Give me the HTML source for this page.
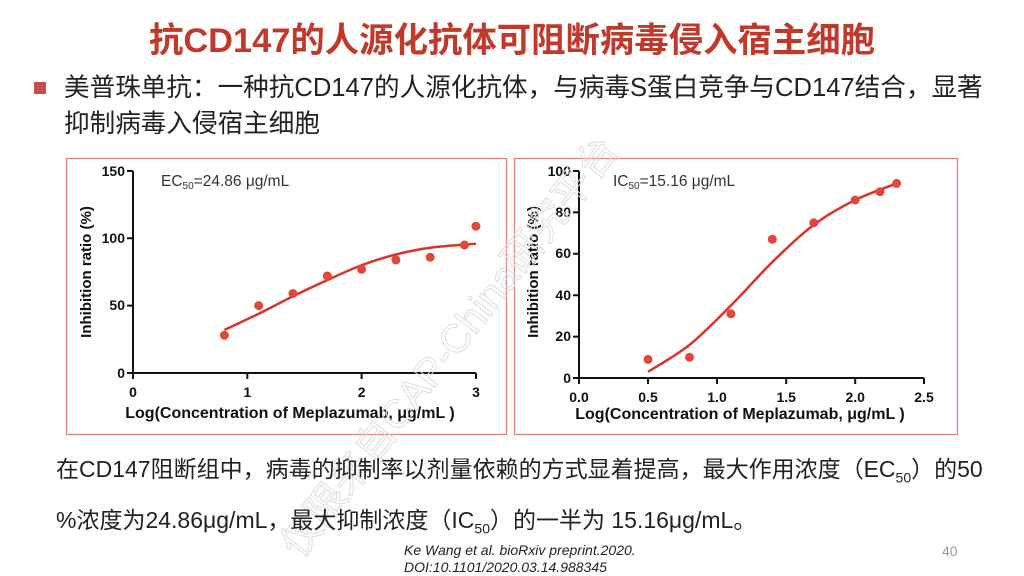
<!DOCTYPE html>
<html><head><meta charset="utf-8"><style>
body{margin:0;width:1024px;height:576px;background:#fff;position:relative;overflow:hidden;font-family:"Liberation Sans","Noto Sans CJK SC",sans-serif;}
.t{position:absolute;white-space:nowrap;}
</style></head><body>
<div class="t" style="left:0;width:1024px;text-align:center;top:12px;font-size:34.4px;font-weight:bold;color:#c0392b;">抗CD147的人源化抗体可阻断病毒侵入宿主细胞</div>
<div class="t" style="left:34px;top:82px;width:12px;height:12px;background:#c0504d;"></div>
<div class="t" style="left:64px;top:70px;font-size:25.6px;color:#222;line-height:36px;">美普珠单抗：一种抗CD147的人源化抗体，与病毒S蛋白竞争与CD147结合，显著<br>抑制病毒入侵宿主细胞</div>
<svg width="1024" height="576" style="position:absolute;left:0;top:0" font-family="Liberation Sans, sans-serif">
<rect x="66.5" y="158.5" width="440" height="276" fill="none" stroke="#e08080" stroke-width="1.2"/>
<rect x="514.5" y="158.5" width="443" height="276" fill="none" stroke="#e08080" stroke-width="1.2"/>
<g stroke="#111" stroke-width="2" fill="none">
<path d="M133 171V373H476"/>
<path d="M127 171h6M127 238.3h6M127 305.6h6M127 373h6M133 373v6M247.3 373v6M361.6 373v6M476 373v6"/>
<path d="M579 171V378H924"/>
<path d="M573 171h6M573 212.4h6M573 253.8h6M573 295.2h6M573 336.6h6M573 378h6M579 378v6M648 378v6M717 378v6M786.2 378v6M855.2 378v6M924 378v6"/>
</g>
<g font-size="14" font-weight="bold" fill="#111" text-anchor="end">
<text x="125" y="176">150</text><text x="125" y="243">100</text><text x="125" y="310">50</text><text x="125" y="378">0</text>
<text x="571" y="176">100</text><text x="571" y="217">80</text><text x="571" y="258">60</text><text x="571" y="300">40</text><text x="571" y="341">20</text><text x="571" y="383">0</text>
</g>
<g font-size="14" font-weight="bold" fill="#111" text-anchor="middle">
<text x="133" y="397">0</text><text x="247.3" y="397">1</text><text x="361.6" y="397">2</text><text x="476" y="397">3</text>
<text x="579" y="402">0.0</text><text x="648" y="402">0.5</text><text x="717" y="402">1.0</text><text x="786.2" y="402">1.5</text><text x="855.2" y="402">2.0</text><text x="924" y="402">2.5</text>
<text x="290" y="418" font-size="16">Log(Concentration of Meplazumab, μg/mL )</text>
<text x="740" y="419" font-size="16">Log(Concentration of Meplazumab, μg/mL )</text>
<text transform="translate(91,272) rotate(-90)" font-size="15">Inhibition ratio (%)</text>
<text transform="translate(538,272) rotate(-90)" font-size="15">Inhibition ratio (%)</text>
</g>
<text x="161" y="186" font-size="15.5" fill="#333">EC<tspan font-size="10" dy="3">50</tspan><tspan dy="-3">=24.86 μg/mL</tspan></text>
<text x="613" y="186" font-size="15.5" fill="#333">IC<tspan font-size="10" dy="3">50</tspan><tspan dy="-3">=15.16 μg/mL</tspan></text>
<g stroke="#d9342b" stroke-width="2.5" fill="none">
<path id="c1"/><path id="c2"/>
</g>
<g fill="#e0483e">
<circle cx="224.4" cy="335.3" r="4.5"/><circle cx="258.7" cy="305.6" r="4.5"/><circle cx="293" cy="293.5" r="4.5"/><circle cx="327.3" cy="276" r="4.5"/><circle cx="361.6" cy="269.3" r="4.5"/><circle cx="395.9" cy="259.9" r="4.5"/><circle cx="430.2" cy="257.2" r="4.5"/><circle cx="464.5" cy="245" r="4.5"/><circle cx="475.9" cy="226.2" r="4.5"/>
<circle cx="648" cy="359.4" r="4.5"/><circle cx="689.5" cy="357.3" r="4.5"/><circle cx="730.9" cy="313.8" r="4.5"/><circle cx="772.3" cy="239.3" r="4.5"/><circle cx="813.8" cy="222.8" r="4.5"/><circle cx="855.2" cy="200" r="4.5"/><circle cx="880" cy="191.7" r="4.5"/><circle cx="896.6" cy="183.4" r="4.5"/>
</g>
<text transform="translate(300,560) rotate(-52)" font-size="40" fill="none" stroke="#ddd" stroke-width="1" font-family="Liberation Sans, Noto Sans CJK SC, sans-serif">仅限来自CAP-China研究平台</text>
</svg>
<div class="t" style="left:56px;top:448px;font-size:23px;color:#222;line-height:42px;">在CD147阻断组中，病毒的抑制率以剂量依赖的方式显着提高，最大作用浓度（EC<sub style="font-size:14px">50</sub>）的50<br>%浓度为24.86μg/mL，最大抑制浓度（IC<sub style="font-size:14px">50</sub>）的一半为 15.16μg/mL。</div>
<div class="t" style="left:404px;top:542px;font-size:14px;font-style:italic;color:#222;line-height:17px;">Ke Wang et al. bioRxiv preprint.2020.<br>DOI:10.1101/2020.03.14.988345</div>
<div class="t" style="left:942px;top:543px;font-size:14px;color:#999;">40</div>
<script>
function smooth(xs,ys){
  var p=[];for(var i=0;i<xs.length;i++)p.push([xs[i],ys[i]]);
  var d="M"+p[0][0]+" "+p[0][1];
  for(var i=0;i<p.length-1;i++){
    var p0=p[i-1]||p[i],p1=p[i],p2=p[i+1],p3=p[i+2]||p2;
    var c1=[p1[0]+(p2[0]-p0[0])/6,p1[1]+(p2[1]-p0[1])/6];
    var c2=[p2[0]-(p3[0]-p1[0])/6,p2[1]-(p3[1]-p1[1])/6];
    d+="C"+c1.join(" ")+" "+c2.join(" ")+" "+p2.join(" ");
  }
  return d;
}
function L(v,a){return v.map(function(x){return a(x)});}
var lx=[0.8,1.1,1.4,1.7,2.0,2.3,2.6,3.0],ly=[32,44,57,69,80,88,93,96];
document.getElementById("c1").setAttribute("d",smooth(L(lx,function(x){return 133+114.3*x}),L(ly,function(y){return 373-1.347*y})));
var rx=[0.5,0.8,1.1,1.4,1.7,2.0,2.3],ry=[3,16,35,56,74,86,94];
document.getElementById("c2").setAttribute("d",smooth(L(rx,function(x){return 579+138.1*x}),L(ry,function(y){return 378-2.07*y})));
</script>
</body></html>
